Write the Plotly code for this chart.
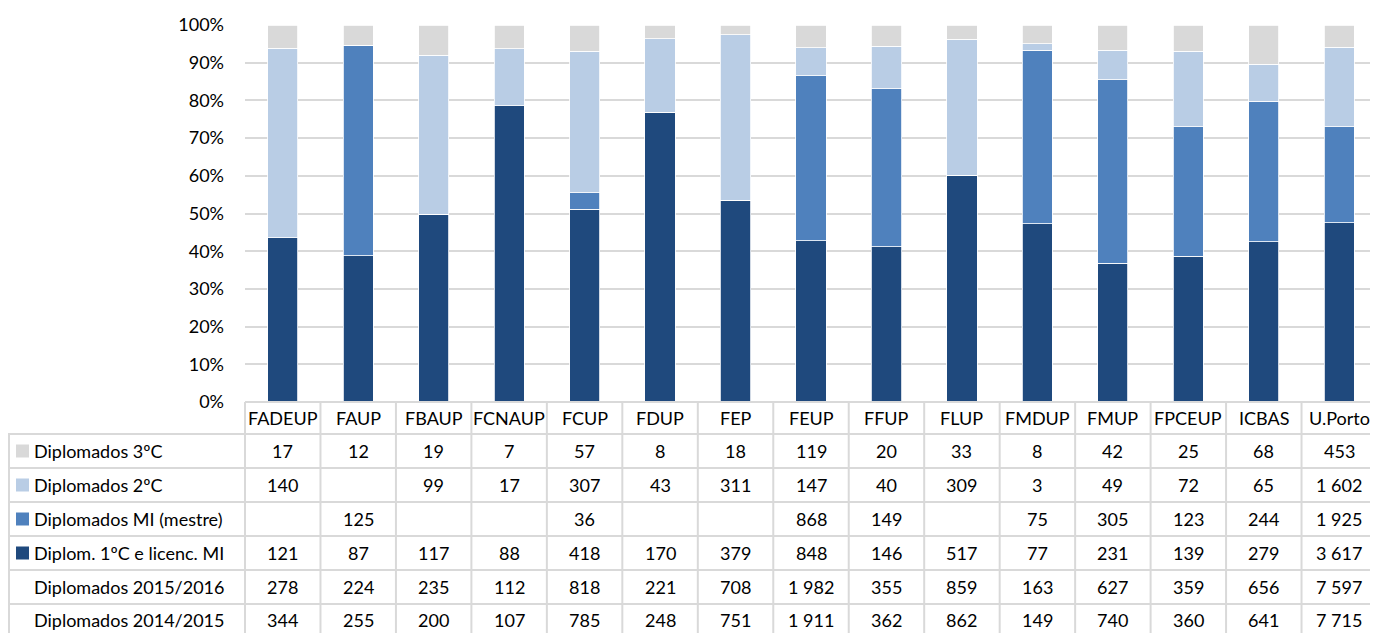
import plotly.graph_objects as go

categories = ["FADEUP", "FAUP", "FBAUP", "FCNAUP", "FCUP", "FDUP", "FEP", "FEUP",
              "FFUP", "FLUP", "FMDUP", "FMUP", "FPCEUP", "ICBAS", "U.Porto"]
dipl_3c = [17, 12, 19, 7, 57, 8, 18, 119, 20, 33, 8, 42, 25, 68, 453]
dipl_2c = [140, 0, 99, 17, 307, 43, 311, 147, 40, 309, 3, 49, 72, 65, 1602]
dipl_mi = [0, 125, 0, 0, 36, 0, 0, 868, 149, 0, 75, 305, 123, 244, 1925]
dipl_1c = [121, 87, 117, 88, 418, 170, 379, 848, 146, 517, 77, 231, 139, 279, 3617]
total_1516 = [278, 224, 235, 112, 818, 221, 708, 1982, 355, 859, 163, 627, 359, 656, 7597]
total_1415 = [344, 255, 200, 107, 785, 248, 751, 1911, 362, 862, 149, 740, 360, 641, 7715]

series_names = ["Diplomados 3ºC", "Diplomados 2ºC", "Diplomados MI (mestre)",
                "Diplom. 1ºC e licenc. MI"]
series_values = [dipl_3c, dipl_2c, dipl_mi, dipl_1c]
series_colors = ["#D9D9D9", "#B9CDE5", "#4F81BD", "#1F497D"]
extra_names = ["Diplomados 2015/2016", "Diplomados 2014/2015"]
extra_values = [total_1516, total_1415]

FONT = "Lato"
FS = 18
OFF = 8  # page body margin
W, H = 1378 - OFF, 633 - OFF
ML, MR, MT, MB = 245 - OFF, 1, 25 - OFF, 231
PW = W - ML - MR
PH = H - MT - MB
GRID = "#D9D9D9"

fig = go.Figure()
# stacked from bottom: 1ºC, MI, 2ºC, 3ºC
for name, vals, col in reversed(list(zip(series_names, series_values, series_colors))):
    fig.add_trace(go.Bar(x=categories, y=vals, name=name,
                         marker=dict(color=col, line=dict(color="white", width=0.8)),
                         showlegend=False))

def py(px):
    return (H - MB - (px - OFF)) / PH

def px_x(px):
    return (px - OFF - ML) / PW

row_edges = [402, 434, 468, 502, 536, 570, 604, 640]
n = len(categories)
shapes = []
ann = []
line = dict(color=GRID, width=2)
shapes.append(dict(type="line", xref="paper", yref="paper", x0=0, x1=1,
                   y0=py(row_edges[0]), y1=py(row_edges[0]), line=line))
for e in row_edges[1:]:
    shapes.append(dict(type="line", xref="paper", yref="paper", x0=px_x(8), x1=1,
                       y0=py(e), y1=py(e), line=line))
for k in range(n + 1):
    shapes.append(dict(type="line", xref="paper", yref="paper", x0=k / n, x1=k / n,
                       y0=py(row_edges[0]), y1=py(row_edges[-1]), line=line))
shapes.append(dict(type="line", xref="paper", yref="paper", x0=px_x(9), x1=px_x(9),
                   y0=py(row_edges[1]), y1=py(row_edges[-1]), line=line))

txt = dict(family=FONT, size=FS, color="#000000")
hc = (row_edges[0] + row_edges[1]) / 2
for c in categories:
    ann.append(dict(x=c, xref="x", y=py(hc), yref="paper", text=c, showarrow=False,
                    font=txt, xanchor="center", yanchor="middle"))

def fmt(v):
    if v == 0:
        return ""
    return f"{v:,}".replace(",", "\u00a0")

rows = list(zip(series_names, series_values, series_colors)) + \
       [(nm, v, None) for nm, v in zip(extra_names, extra_values)]
for r, (name, vals, col) in enumerate(rows):
    yc = (row_edges[r + 1] + row_edges[r + 2]) / 2
    if r == len(rows) - 1:
        yc = 620
    ann.append(dict(x=px_x(32), xref="paper", y=py(yc), yref="paper", text=name,
                    showarrow=False, font=txt, xanchor="left", yanchor="middle"))
    if col:
        shapes.append(dict(type="rect", xref="paper", yref="paper", x0=px_x(16), x1=px_x(29),
                           y0=py(yc + 6.5), y1=py(yc - 6.5), fillcolor=col,
                           line=dict(width=0)))
    for c, v in zip(categories, vals):
        ann.append(dict(x=c, xref="x", y=py(yc), yref="paper", text=fmt(v),
                        showarrow=False, font=txt, xanchor="center", yanchor="middle"))

fig.update_layout(
    width=W, height=H,
    margin=dict(l=ML, r=MR, t=MT, b=MB),
    barmode="stack", barnorm="percent", bargap=0.6,
    plot_bgcolor="white", paper_bgcolor="white",
    font=dict(family=FONT, size=FS, color="#000000"),
    xaxis=dict(range=[-0.5, n - 0.5], showticklabels=False, showgrid=False,
               zeroline=False, showline=False, fixedrange=True),
    yaxis=dict(range=[0, 100], dtick=10, ticksuffix="%", showgrid=True,
               gridcolor=GRID, gridwidth=1.5, zeroline=False, showline=False,
               ticklabelstandoff=20, tickfont=dict(family=FONT, size=FS, color="#000000")),
    shapes=shapes, annotations=ann,
)
fig.write_html("out.html")
